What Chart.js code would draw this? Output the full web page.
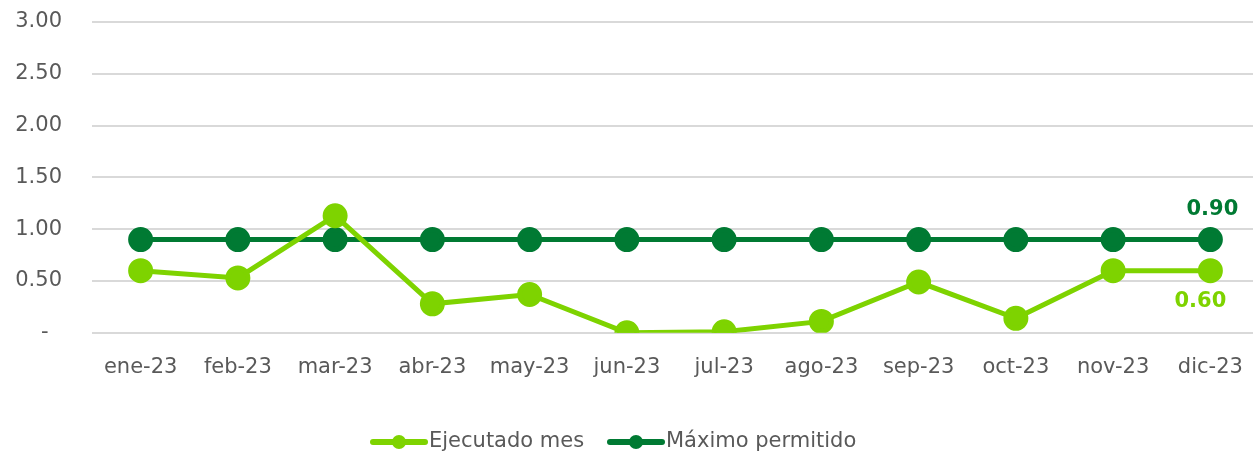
<!DOCTYPE html>
<html>
<head>
<meta charset="utf-8">
<script src="https://cdn.jsdelivr.net/npm/chart.js@4.4.0/dist/chart.umd.min.js"></script>
<style>
  html, body { margin: 0; padding: 0; background: #fff; overflow: hidden; }
  #wrap { width: 1274px; height: 456px; }
</style>
</head>
<body>
<div id="wrap"><canvas id="grafico"></canvas></div>
<script>
// datos
const meses = ['ene-23','feb-23','mar-23','abr-23','may-23','jun-23','jul-23','ago-23','sep-23','oct-23','nov-23','dic-23'];
const ejecutado = [0.60,0.53,1.13,0.28,0.37,0.00,0.01,0.11,0.49,0.14,0.60,0.60];
const maximo = [0.90,0.90,0.90,0.90,0.90,0.90,0.90,0.90,0.90,0.90,0.90,0.90];
const nombres = ['Ejecutado mes','Máximo permitido'];

const verdeClaro = '#7ed300';
const verdeOscuro = '#007a33';
const gris = '#595959';
const fuente = "'DejaVu Sans', sans-serif";

// etiqueta del ultimo punto de cada serie
const ultimoValor = {
  id: 'ultimoValor',
  afterDatasetsDraw(chart) {
    const ctx = chart.ctx;
    ctx.save();
    ctx.font = 'bold 21px ' + fuente;
    ctx.textAlign = 'center';
    ctx.textBaseline = 'middle';
    chart.data.datasets.forEach((ds, i) => {
      const meta = chart.getDatasetMeta(i);
      const p = meta.data[meta.data.length - 1];
      const v = ds.data[ds.data.length - 1];
      ctx.fillStyle = ds.borderColor;
      const dy = i === 1 ? -30 : 31;
      const dx = i === 1 ? 2 : -10;
      ctx.fillText(v.toFixed(2), p.x + dx, p.y + dy);
    });
    ctx.restore();
  }
};

// leyenda abajo con linea y circulo
const leyenda = {
  id: 'leyenda',
  afterDraw(chart) {
    const ctx = chart.ctx;
    const y = 442;
    const xs = [373, 610];
    ctx.save();
    ctx.font = '21px ' + fuente;
    ctx.textBaseline = 'middle';
    chart.data.datasets.forEach((ds, i) => {
      const x = xs[i];
      ctx.strokeStyle = ds.borderColor;
      ctx.lineWidth = 6;
      ctx.lineCap = 'round';
      ctx.beginPath();
      ctx.moveTo(x, y);
      ctx.lineTo(x + 52, y);
      ctx.stroke();
      ctx.fillStyle = ds.borderColor;
      ctx.beginPath();
      ctx.arc(x + 26, y, 7, 0, Math.PI * 2);
      ctx.fill();
      ctx.fillStyle = gris;
      ctx.fillText(ds.label, x + 56, y);
    });
    ctx.restore();
  }
};

new Chart(document.getElementById('grafico'), {
  type: 'line',
  data: {
    labels: meses,
    datasets: [
      {
        label: nombres[0],
        data: ejecutado,
        borderColor: verdeClaro,
        backgroundColor: verdeClaro,
        borderWidth: 5,
        pointRadius: 10,
        pointHoverRadius: 10,
        tension: 0
      },
      {
        label: nombres[1],
        data: maximo,
        borderColor: verdeOscuro,
        backgroundColor: verdeOscuro,
        borderWidth: 5,
        pointRadius: 10,
        pointHoverRadius: 10,
        tension: 0
      }
    ]
  },
  options: {
    responsive: true,
    maintainAspectRatio: false,
    animation: false,
    layout: { padding: { top: 22, bottom: 62, left: 0, right: 0 } },
    scales: {
      x: {
        offset: true,
        grid: { display: false },
        border: { display: false },
        ticks: { color: gris, font: { family: fuente, size: 21 }, padding: 14, maxRotation: 0, autoSkip: false }
      },
      y: {
        min: 0,
        max: 3,
        afterFit: (s) => { s.width = 92; },
        grid: { color: '#d9d9d9', lineWidth: 2, drawTicks: true, tickLength: 26, tickColor: 'rgba(0,0,0,0)' },
        border: { display: false },
        ticks: {
          stepSize: 0.5,
          color: gris,
          padding: 4,
          font: { family: fuente, size: 21 },
          callback: (v) => v === 0 ? '-  ' : v.toFixed(2)
        }
      }
    },
    plugins: {
      legend: { display: false },
      tooltip: { enabled: false }
    }
  },
  plugins: [ultimoValor, leyenda]
});
</script>
</body>
</html>
